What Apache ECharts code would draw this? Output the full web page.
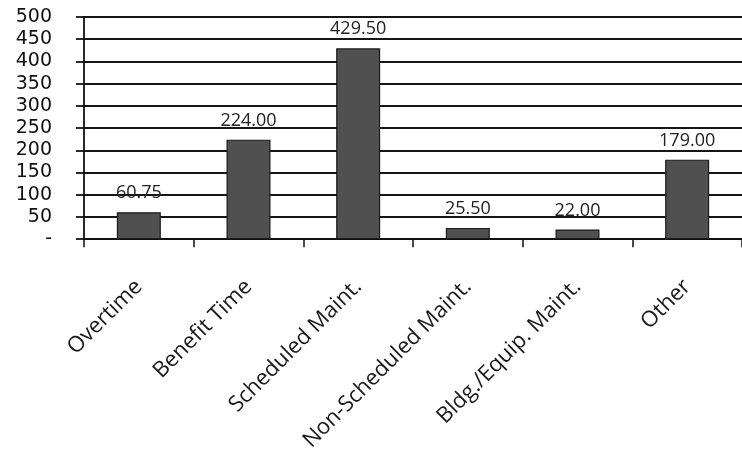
<!DOCTYPE html>
<html>
<head>
<meta charset="utf-8">
<script src="https://cdn.jsdelivr.net/npm/echarts@6/dist/echarts.min.js"></script>
<style>
  html, body { margin: 0; padding: 0; background: #fff; }
  #chart { width: 742px; height: 454px; }
</style>
</head>
<body>
<div id="chart"></div>
<script>
// Hours by category
const categories = ['Overtime', 'Benefit Time', 'Scheduled Maint.', 'Non-Scheduled Maint.', 'Bldg./Equip. Maint.', 'Other'];
const hours = [60.75, 224.00, 429.50, 25.50, 22.00, 179.00];
const yTicks = { min: 0, max: 500, interval: 50 };

const chart = echarts.init(document.getElementById('chart'));
chart.setOption({
  animation: false,
  backgroundColor: '#fff',
  grid: { left: 84, top: 17, width: 663, height: 223, containLabel: false },
  xAxis: {
    type: 'category',
    data: categories,
    axisLine: { lineStyle: { color: '#111', width: 1.8 } },
    axisTick: { show: true, length: 8, lineStyle: { color: '#111', width: 1.5 } },
    axisLabel: {
      rotate: 45,
      margin: 44,
      color: '#1a1a1a',
      fontFamily: 'Open Sans',
      fontSize: 22
    }
  },
  yAxis: {
    type: 'value',
    min: yTicks.min,
    max: yTicks.max,
    interval: yTicks.interval,
    axisLine: { show: true, lineStyle: { color: '#111', width: 1.8 } },
    axisTick: { show: true, length: 8, lineStyle: { color: '#111', width: 1.8 } },
    splitLine: { show: true, lineStyle: { color: '#151515', width: 1.8 } },
    axisLabel: {
      margin: 32,
      color: '#111',
      fontFamily: 'DejaVu Sans',
      fontSize: 19,
      formatter: v => (v === 0 ? '-' : String(v))
    }
  },
  series: [{
    type: 'bar',
    data: hours,
    barWidth: 44,
    itemStyle: { color: '#505050', borderColor: '#1a1a1a', borderWidth: 1.2 },
    label: {
      show: true,
      position: 'top',
      distance: 10,
      color: '#222',
      fontFamily: 'Open Sans',
      fontSize: 18,
      formatter: p => p.value.toFixed(2)
    }
  }]
});
</script>
</body>
</html>
